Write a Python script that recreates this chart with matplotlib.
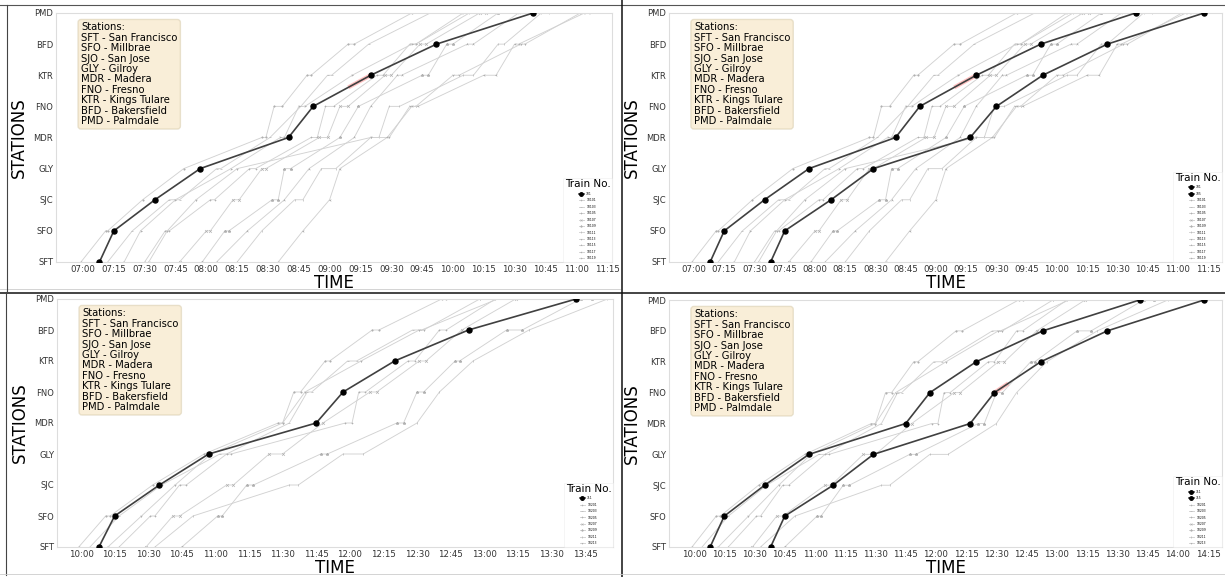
import numpy as np
import matplotlib
matplotlib.use("Agg")
from matplotlib import pyplot as plt
from matplotlib.lines import Line2D

W, H = 1225, 577

STATIONS = ["SFT", "SFO", "SJC", "GLY", "MDR", "FNO", "KTR", "BFD", "PMD"]
STATION_NAMES = [
    "SFT - San Francisco", "SFO - Millbrae", "SJO - San Jose", "GLY - Gilroy",
    "MDR - Madera", "FNO - Fresno", "KTR - Kings Tulare", "BFD - Bakersfield",
    "PMD - Palmdale",
]

# morning window: the studied train, an extra inserted train, and the other traffic
AM_TICKS = ["07:00", "07:15", "07:30", "07:45", "08:00", "08:15", "08:30", "08:45", "09:00",
            "09:15", "09:30", "09:45", "10:00", "10:15", "10:30", "10:45", "11:00", "11:15"]
AM_MAIN_NO = "701"
AM_MAIN = ["07:08", "07:15", "07:35", "07:57", "08:40", "08:52", "09:20", "09:52", "10:39"]
AM_EXTRA_NO = "705"
AM_EXTRA = ["07:38", "07:45", "08:08", "08:29", "09:17", "09:30", "09:53", "10:25", "11:13"]
AM_OTHER_NO = ["10101", "10103", "10105", "10107", "10109", "10111", "10113", "10115", "10117", "10119"]
AM_OTHER = [
    ["06:59", "07:11/07:12", "07:29", "07:49", "08:27/08:29", "08:33/08:37", "08:49/08:51", "09:09/09:12", "09:40"],
    ["07:12", "07:24", "07:42/07:47", "08:05/08:07", "08:31", "08:46", "08:59/09:01", "09:19", "09:49/09:51"],
    ["07:30", "07:40/07:42", "08:02/08:04", "08:21/08:24", "08:51/08:54", "08:58/09:02", "09:23/09:26", "09:39/09:42", "10:08/10:11"],
    ["07:47", "08:00/08:02", "08:13/08:16", "08:27/08:29", "08:55/08:59", "09:05/09:09", "09:27/09:30", "09:44/09:47", "10:13/10:16"],
    ["07:58", "08:09/08:11", "08:32/08:35", "08:38/08:41", "09:05", "09:14", "09:45/09:48", "09:57/10:00", "10:22"],
    ["08:15", "08:27", "08:43/08:47", "08:56/09:03", "09:20/09:24", "09:29/09:34", "10:05/10:10", "10:22/10:25", "10:43/10:47"],
    ["07:32", "07:41", "07:55", "08:15", "09:20/09:29", "09:39/09:42", "10:00/10:03", "10:33/10:35", "11:02"],
    ["08:05", "08:20", "08:38", "08:50", "09:12", "09:20", "09:33/09:35", "10:07/10:10", "10:32"],
    ["08:35", "08:47", "09:00", "09:05", "09:28", "09:40/09:43", "10:15/10:21", "10:30/10:32", "11:04/11:06"],
    ["07:20", "07:28", "07:45", "08:12", "08:36/08:38", "08:45/08:48", "09:11", "09:40/09:42", "10:05"],
]
AM_CONFLICT = ("09:10", "09:20")

# late-morning window
PM_TICKS = ["10:00", "10:15", "10:30", "10:45", "11:00", "11:15", "11:30", "11:45", "12:00",
            "12:15", "12:30", "12:45", "13:00", "13:15", "13:30", "13:45", "14:00", "14:15"]
PM_MAIN_NO = "711"
PM_MAIN = ["10:08", "10:15", "10:35", "10:57", "11:45", "11:57", "12:20", "12:53", "13:41"]
PM_EXTRA_NO = "715"
PM_EXTRA = ["10:38", "10:45", "11:09", "11:29", "12:17", "12:29", "12:52", "13:25", "14:13"]
PM_OTHER_NO = ["10201", "10203", "10205", "10207", "10209", "10211", "10213"]
PM_OTHER = [
    ["09:59", "10:11/10:13", "10:32", "10:55", "11:28/11:30", "11:35/11:38", "11:49/11:51", "12:10/12:13", "12:41/12:43"],
    ["10:04", "10:17", "10:36", "11:02/11:05", "11:33", "11:41/11:43", "11:59/12:03", "12:28/12:32", "13:06/13:12"],
    ["10:17", "10:31/10:33", "10:44/10:47", "11:05/11:07", "11:58/12:01", "12:04/12:07", "12:26/12:29", "12:40/12:43", "13:05"],
    ["10:29", "10:41/10:44", "11:05/11:08", "11:24/11:30", "11:48", "12:09/12:12", "12:31/12:34", "12:50", "13:14"],
    ["10:45", "11:01/11:03", "11:14/11:17", "11:47/11:50", "12:21/12:24", "12:30/12:33", "12:47/12:49", "13:10/13:17", "13:43/13:48"],
    ["10:33", "10:50", "11:33/11:37", "11:57/12:06", "12:30", "12:40", "12:55", "13:20", "13:55"],
    ["10:12", "10:27", "10:42", "10:58", "11:30", "11:40", "12:05", "12:31/12:33", "12:58"],
]
PM_CONFLICT = ("12:29", "12:35")

GREY_MARKERS = [".", "_", "+", "x", "*", "|", "1", "2", "3", "4"]


def to_min(s):
    h, m = s.split(":")
    return int(h) * 60 + int(m)


def path(times):
    xs, ys = [], []
    for k, entry in enumerate(times):
        for part in entry.split("/"):
            xs.append(to_min(part))
            ys.append(k)
    return np.array(xs, float), np.array(ys, float)


def px_axes(fig, left, top, right, bottom):
    return fig.add_axes([left / W, 1 - bottom / H, (right - left) / W, (bottom - top) / H])


def draw_panel(ax, ticks, tick0_px, px_per_min, left_px, right_px, others, other_nos,
               mains, main_nos, conflict=None, conflict_train=0):
    t0 = to_min(ticks[0])
    for i, (times, no) in enumerate(zip(others, other_nos)):
        xs, ys = path(times)
        ax.plot(xs, ys, color="#d2d2d2", lw=0.65, marker=GREY_MARKERS[i % len(GREY_MARKERS)],
                ms=2.0, mew=0.45, mec="#b0b0b0", mfc="#b0b0b0", label=no, zorder=2)
    for times, no in zip(mains, main_nos):
        xs, ys = path(times)
        ax.plot(xs, ys, color="#404040", lw=1.2, marker="o", ms=3.6, mfc="black",
                mec="black", label=no, zorder=4)
    # highlighted conflict stretch
    if conflict is not None:
        xs, ys = path(mains[conflict_train])
        c0, c1 = to_min(conflict[0]), to_min(conflict[1])
        seg_x = np.concatenate([[c0], xs[(xs > c0) & (xs < c1)], [c1]])
        ax.plot(seg_x, np.interp(seg_x, xs, ys), color="#ff7a7a", lw=3.0, alpha=0.45, zorder=3)

    ax.set_ylim(0, 8)
    ax.set_yticks(range(len(STATIONS)))
    ax.set_yticklabels(STATIONS, fontsize=6)
    ax.set_xticks([to_min(t) for t in ticks])
    ax.set_xticklabels(ticks, fontsize=6.2)
    ax.set_xlim(t0 - (tick0_px - left_px) / px_per_min, t0 + (right_px - tick0_px) / px_per_min)
    ax.tick_params(length=0, pad=2, colors="#333333")
    for sp in ax.spines.values():
        sp.set_color("#dddddd")
        sp.set_linewidth(0.8)
    ax.set_xlabel("TIME", fontsize=12, labelpad=0)
    ax.set_ylabel("STATIONS", fontsize=12, labelpad=4)

    ax.text(0.045, 0.962, "Stations:\n" + "\n".join(STATION_NAMES), transform=ax.transAxes,
            va="top", ha="left", fontsize=7.2, linespacing=1.05, zorder=6,
            bbox=dict(boxstyle="round,pad=0.3", facecolor="wheat", alpha=0.5, edgecolor="#d5c9a8"))

    all_h, all_l = ax.get_legend_handles_labels()
    order = [all_l.index(n) for n in main_nos] + [all_l.index(n) for n in other_nos]
    leg = ax.legend([all_h[k] for k in order], [all_l[k] for k in order], title="Train No.",
                    loc="lower right", fontsize=2.2, title_fontsize=7.5, handlelength=1.6,
                    labelspacing=0.8, borderaxespad=0.15, frameon=True, framealpha=0.8,
                    edgecolor="#eeeeee", markerscale=0.7)
    leg.get_frame().set_linewidth(0.5)


def main():
    fig = plt.figure(figsize=(W / 100, H / 100), dpi=100)

    ax_tl = px_axes(fig, 56, 13, 612, 262)
    draw_panel(ax_tl, AM_TICKS, 83, 2.055, 56, 612, AM_OTHER, AM_OTHER_NO,
               [AM_MAIN], [AM_MAIN_NO], AM_CONFLICT)

    ax_tr = px_axes(fig, 669, 13, 1222, 262)
    draw_panel(ax_tr, AM_TICKS, 694, 2.016, 669, 1222, AM_OTHER, AM_OTHER_NO,
               [AM_MAIN, AM_EXTRA], [AM_MAIN_NO, AM_EXTRA_NO], AM_CONFLICT)

    ax_bl = px_axes(fig, 57, 299, 613, 547)
    draw_panel(ax_bl, PM_TICKS[:16], 81, 2.24, 57, 613, PM_OTHER, PM_OTHER_NO,
               [PM_MAIN], [PM_MAIN_NO])

    ax_br = px_axes(fig, 669, 300, 1222, 547)
    draw_panel(ax_br, PM_TICKS, 694, 2.016, 669, 1222, PM_OTHER, PM_OTHER_NO,
               [PM_MAIN, PM_EXTRA], [PM_MAIN_NO, PM_EXTRA_NO], PM_CONFLICT, conflict_train=1)

    # frames between the four views
    def fig_line(x0, y0, x1, y1, color, lw):
        fig.add_artist(Line2D([x0 / W, x1 / W], [1 - y0 / H, 1 - y1 / H], color=color, lw=lw))

    fig_line(0, 5, W, 5, "#555555", 0.8)
    fig_line(0, 289, 620, 289, "#cccccc", 0.6)
    fig_line(0, 292.5, W, 292.5, "#111111", 1.1)
    fig_line(622, 0, 622, H, "#111111", 1.1)
    fig_line(7, 5, 7, 292, "#444444", 0.8)
    fig_line(6, 292, 6, 575, "#444444", 0.8)
    fig_line(0, 574, W, 574, "#cccccc", 0.6)

    fig.savefig("out.png", dpi=100)


if __name__ == "__main__":
    main()
